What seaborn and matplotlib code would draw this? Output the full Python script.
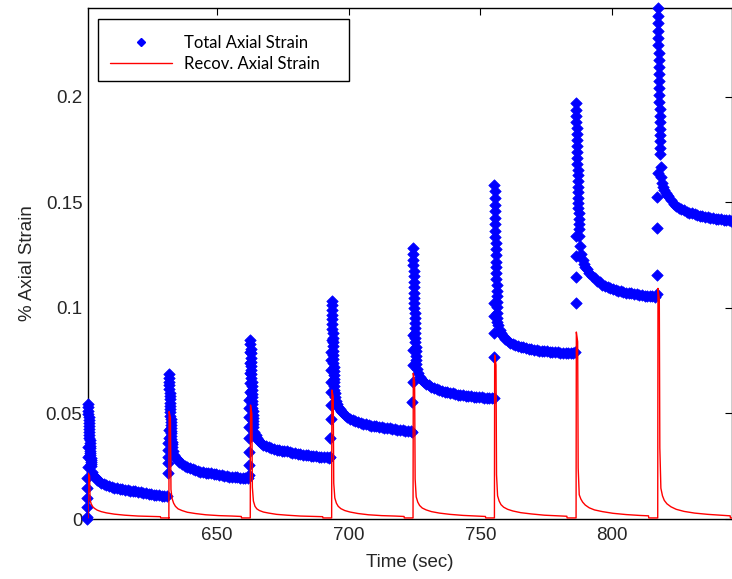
import matplotlib
matplotlib.use("Agg")
import matplotlib.pyplot as plt
from matplotlib.patches import Rectangle
from matplotlib.lines import Line2D
import pandas as pd
import seaborn as sns

# ---------------- data ----------------
LOAD_TIMES = [601.0, 631.7, 662.6, 693.5, 724.4, 755.3, 786.3, 817.3]

# loading points (strain rising up to the peak), per cycle
RISE = [
    [0.0, 0.0011, 0.0058, 0.0098, 0.0145, 0.0193, 0.0248, 0.0295, 0.0343],
    [0.0217, 0.0264, 0.0295, 0.0327, 0.0359, 0.0382, 0.0422],
    [0.0210, 0.0256, 0.0319, 0.0382, 0.0437, 0.0485, 0.0525, 0.0564, 0.0603, 0.0643, 0.0690, 0.0738, 0.0793],
    [0.0295, 0.0382, 0.0472, 0.0540, 0.0603, 0.0651, 0.0706, 0.0754, 0.0793, 0.0848],
    [0.0414, 0.0553, 0.0651, 0.0730, 0.0800, 0.0870],
    [0.0575, 0.0769, 0.0880, 0.0960, 0.1024],
    [0.0791, 0.1022, 0.1149, 0.1244, 0.1340],
    [0.1064, 0.1154, 0.1379, 0.1528, 0.1638],
]

# dense drop right after the peak (seconds after load, strain)
COL_DT = [0.00, 0.05, 0.10, 0.15, 0.20, 0.25, 0.30, 0.35, 0.40, 0.45, 0.50, 0.55,
          0.60, 0.65, 0.70, 0.75, 0.80, 0.85, 0.90, 0.95, 1.00, 1.05, 1.10, 1.15]
COL = [
    [.0545, .0529, .0513, .0498, .0483, .0468, .0454, .0440, .0426, .0412, .0399, .0386,
     .0373, .0360, .0348, .0336, .0324, .0313, .0302, .0291, .0281, .0270, .0260, .0250],
    [.0685, .0667, .0650, .0633, .0616, .0599, .0583, .0567, .0551, .0535, .0520, .0505,
     .0490, .0475, .0461, .0447, .0433, .0419, .0406, .0393, .0380, .0367, .0355, .0343],
    [.0848, .0827, .0806, .0785, .0765, .0745, .0725, .0705, .0686, .0667, .0648, .0630,
     .0612, .0594, .0577, .0560, .0543, .0527, .0511, .0495, .0480, .0465, .0450, .0436],
    [.1035, .1012, .0990, .0968, .0946, .0924, .0902, .0881, .0860, .0839, .0818, .0798,
     .0778, .0758, .0739, .0720, .0701, .0683, .0665, .0647, .0630, .0613, .0596, .0580],
    [.1283, .1256, .1229, .1202, .1176, .1150, .1124, .1098, .1073, .1048, .1023, .0999,
     .0975, .0951, .0928, .0905, .0882, .0860, .0838, .0816, .0795, .0774, .0753, .0733],
    [.1585, .1553, .1521, .1490, .1459, .1428, .1397, .1367, .1337, .1307, .1278, .1249,
     .1220, .1192, .1164, .1136, .1109, .1082, .1055, .1029, .1003, .0978, .0953, .0935],
    [.1970, .1940, .1910, .1881, .1852, .1823, .1794, .1766, .1738, .1710, .1682, .1655,
     .1628, .1601, .1575, .1549, .1523, .1498, .1473, .1448, .1424, .1400, .1376, .1340],
    [.2421, .2385, .2349, .2314, .2279, .2244, .2209, .2175, .2141, .2107, .2074, .2041,
     .2008, .1976, .1944, .1912, .1881, .1850, .1819, .1789, .1759, .1729, .1670, .1620],
]

# slow recovery after the drop (seconds after load, strain)
TAIL_DT = [1.5, 2, 2.5, 3, 3.5, 4, 5, 6, 7, 8, 9, 10, 11, 12, 13, 14, 15, 16,
           17, 18, 19, 20, 21, 22, 23, 24, 25, 26, 27, 28, 29, 30]
TAIL = [
    [.0222, .0210, .0201, .0194, .0187, .0181, .0171, .0164, .0159, .0155, .0151, .0148,
     .0146, .0143, .0141, .0139, .0137, .0135, .0133, .0131, .0128, .0126, .0123, .0121,
     .0119, .0117, .0115, .0113, .0112, .0111, .0110, .0109],
    [.0320, .0305, .0295, .0286, .0278, .0271, .0260, .0252, .0245, .0240, .0235, .0231,
     .0228, .0225, .0222, .0220, .0218, .0216, .0214, .0211, .0209, .0207, .0205, .0203,
     .0201, .0200, .0198, .0197, .0195, .0194, .0193, .0192],
    [.0410, .0396, .0385, .0376, .0368, .0362, .0353, .0346, .0340, .0336, .0332, .0329,
     .0326, .0324, .0322, .0320, .0318, .0315, .0312, .0310, .0307, .0305, .0303, .0301,
     .0300, .0298, .0297, .0295, .0294, .0293, .0292, .0291],
    [.0560, .0545, .0532, .0522, .0513, .0505, .0493, .0483, .0476, .0470, .0464, .0459,
     .0455, .0452, .0449, .0446, .0443, .0441, .0439, .0437, .0435, .0433, .0431, .0429,
     .0427, .0425, .0423, .0421, .0420, .0418, .0417, .0415],
    [.0712, .0690, .0675, .0665, .0657, .0651, .0642, .0634, .0627, .0621, .0616, .0612,
     .0608, .0604, .0601, .0598, .0595, .0592, .0590, .0588, .0586, .0584, .0582, .0581,
     .0579, .0578, .0577, .0576, .0575, .0574, .0573, .0572],
    [.0920, .0898, .0882, .0870, .0861, .0854, .0844, .0836, .0830, .0825, .0820, .0816,
     .0813, .0810, .0807, .0805, .0802, .0800, .0798, .0796, .0795, .0794, .0793, .0792,
     .0791, .0790, .0789, .0788, .0788, .0787, .0787, .0786],
    [.1295, .1255, .1228, .1210, .1196, .1185, .1166, .1152, .1140, .1130, .1121, .1111,
     .1104, .1098, .1093, .1089, .1085, .1082, .1079, .1076, .1073, .1071, .1069, .1067,
     .1065, .1063, .1061, .1059, .1058, .1056, .1055, .1053],
    [.1590, .1572, .1557, .1547, .1537, .1529, .1512, .1494, .1483, .1475, .1468, .1462,
     .1457, .1452, .1448, .1444, .1441, .1438, .1435, .1433, .1430, .1428, .1426, .1424,
     .1422, .1420, .1418, .1417, .1415, .1414, .1413, .1412],
]

# recovered strain (seconds after load, strain)
RED_DT = [0.0, 0.1, 0.6, 0.8, 1.2, 1.8, 2.5, 3.5, 5, 7, 10, 14, 19, 24, 27.5, 27.6, 30.8]
RED = [
    [.0005, .0217, .0205, .0090, .0072, .0058, .0050, .0042, .0035, .0029, .0023, .0018, .0014, .0012, .0011, .0005, .0005],
    [.0005, .0509, .0480, .0140, .0098, .0075, .0060, .0048, .0040, .0032, .0026, .0020, .0016, .0014, .0012, .0005, .0005],
    [.0005, .0540, .0500, .0150, .0085, .0060, .0048, .0040, .0033, .0028, .0022, .0018, .0014, .0012, .0011, .0005, .0005],
    [.0005, .0611, .0580, .0170, .0100, .0075, .0060, .0049, .0040, .0033, .0026, .0020, .0016, .0014, .0012, .0005, .0005],
    [.0005, .0690, .0650, .0190, .0105, .0080, .0064, .0052, .0043, .0035, .0028, .0022, .0017, .0014, .0012, .0005, .0005],
    [.0005, .0777, .0730, .0210, .0110, .0085, .0068, .0056, .0046, .0038, .0030, .0024, .0018, .0015, .0013, .0005, .0005],
    [.0005, .0886, .0840, .0242, .0115, .0095, .0080, .0066, .0053, .0043, .0035, .0027, .0021, .0017, .0015, .0005, .0005],
    [.0005, .1093, .1040, .0337, .0146, .0110, .0088, .0072, .0058, .0046, .0036, .0028, .0022, .0018, .0015, .0005, .0005],
]

X_TICKS = [650, 700, 750, 800]
Y_TICKS = [0, 0.05, 0.1, 0.15, 0.2]
Y_TICK_LABELS = ["0", "0.05", "0.1", "0.15", "0.2"]
LABELS = ["Total Axial Strain", "Recov. Axial Strain"]
X_LABEL = "Time (sec)"
Y_LABEL = "% Axial Strain"
SAMPLE_DT = 0.05

# ---------------- tidy tables ----------------
blue_rows = []
red_rows = []
for k, T in enumerate(LOAD_TIMES):
    n = len(RISE[k])
    for i, v in enumerate(RISE[k]):
        blue_rows.append((T - SAMPLE_DT * (n - i), v))
    for dt, v in zip(COL_DT, COL[k]):
        blue_rows.append((T + dt, v))
    for dt, v in zip(TAIL_DT, TAIL[k]):
        blue_rows.append((T + dt, v))
    for dt, v in zip(RED_DT, RED[k]):
        red_rows.append((T + dt, v))
blue = pd.DataFrame(blue_rows, columns=["time", "strain"])
red = pd.DataFrame(red_rows, columns=["time", "strain"])

# ---------------- plot ----------------
sns.set_theme(style="white")
plt.rcParams["font.family"] = ["Liberation Sans", "DejaVu Sans"]
TXT = "#262626"
FS = 13.5

fig = plt.figure(figsize=(7.32, 5.79), dpi=100)
ax = fig.add_axes([88 / 732, 60 / 579, 644 / 732, 511.5 / 579])

sns.scatterplot(data=blue, x="time", y="strain", ax=ax, marker="D", s=34,
                color="#0000ff", edgecolor="#0000ff", linewidth=0.5,
                clip_on=False, zorder=3, legend=False)
sns.lineplot(data=red, x="time", y="strain", ax=ax, sort=False, estimator=None,
             color="#ff0000", linewidth=1.0, zorder=4, legend=False)

ax.set_xlim(601.0, 845.5)
ax.set_ylim(0, 0.2424)
ax.set_xticks(X_TICKS)
ax.set_xticklabels([str(t) for t in X_TICKS])
ax.set_yticks(Y_TICKS)
ax.set_yticklabels(Y_TICK_LABELS)
ax.tick_params(direction="in", length=5, width=0.8, top=True, right=True,
               labelsize=FS, labelcolor=TXT, color="black")
ax.tick_params(axis="x", pad=6)
ax.tick_params(axis="y", pad=4)
for sp in ax.spines.values():
    sp.set_visible(True)
    sp.set_color("black")
    sp.set_linewidth(1.0)

ax.set_xlabel(X_LABEL, fontsize=FS, color=TXT, labelpad=7)
ax.set_ylabel(Y_LABEL, fontsize=FS, color=TXT, labelpad=7)

# legend box
ax.add_patch(Rectangle((10 / 644, (519 - 81) / 511.5), 251 / 644, 62 / 511.5,
                       transform=ax.transAxes, facecolor="white",
                       edgecolor="black", linewidth=1.0, zorder=6, clip_on=False))
handles = [Line2D([], [], marker="D", ls="none", color="#0000ff", ms=3.6),
           Line2D([], [], color="#ff0000", lw=1.0)]
leg = ax.legend(handles, LABELS, loc="upper left",
                bbox_to_anchor=(22 / 644, (519 - 35) / 511.5),
                frameon=False, prop={"family": ["Lato", "DejaVu Sans"], "size": 12},
                handlelength=3.7, handletextpad=0.75, labelspacing=0.28,
                borderpad=0, borderaxespad=0)
leg.set_zorder(7)
for t in leg.get_texts():
    t.set_color("black")

fig.savefig("out.png", dpi=100)
